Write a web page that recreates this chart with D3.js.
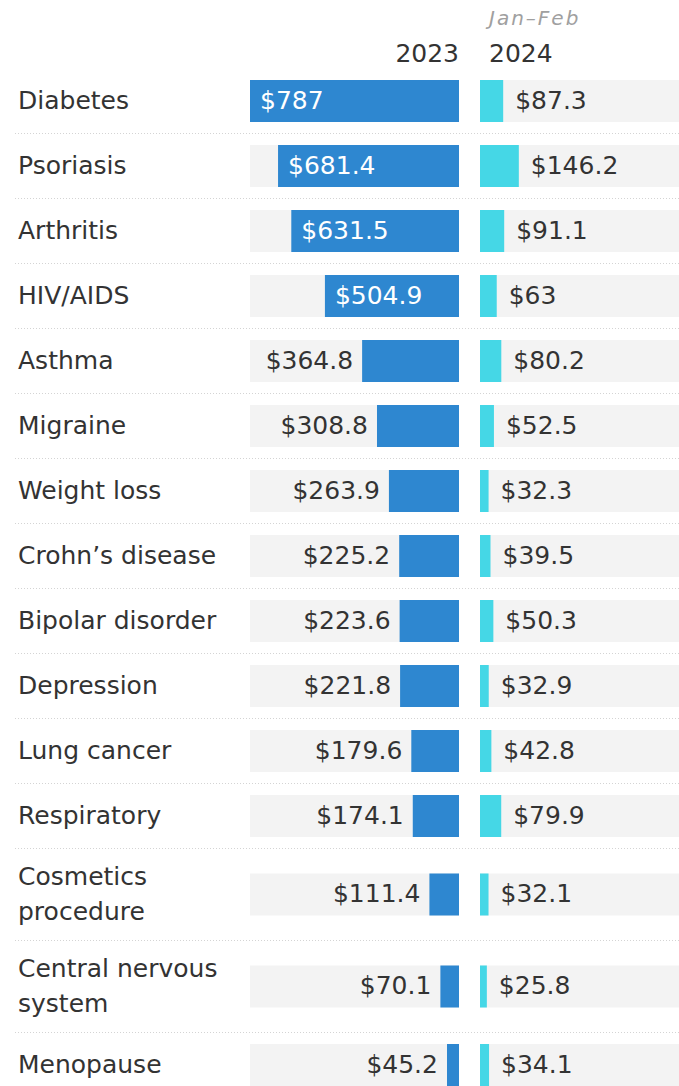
<!DOCTYPE html>
<html>
<head>
<meta charset="utf-8">
<script src="https://cdn.jsdelivr.net/npm/d3@7"></script>
<style>
  html, body { margin: 0; padding: 0; background: #fff; }
  svg { display: block; }
  text { font-family: "DejaVu Sans", sans-serif; }
</style>
</head>
<body>
<svg id="chart"></svg>
<script>
// data
var categories = ["Diabetes", "Psoriasis", "Arthritis", "HIV/AIDS", "Asthma", "Migraine", "Weight loss",
    "Crohn\u2019s disease", "Bipolar disorder", "Depression", "Lung cancer", "Respiratory",
    "Cosmetics\nprocedure", "Central nervous\nsystem", "Menopause"];
var values2023 = [787, 681.4, 631.5, 504.9, 364.8, 308.8, 263.9, 225.2, 223.6, 221.8, 179.6, 174.1, 111.4, 70.1, 45.2];
var values2024 = [87.3, 146.2, 91.1, 63, 80.2, 52.5, 32.3, 39.5, 50.3, 32.9, 42.8, 79.9, 32.1, 25.8, 34.1];
var seriesLabels = ["2023", "2024"];
var subLabel = "Jan\u2013Feb";

var width = 679, height = 1086;
var svg = d3.select("#chart").attr("width", width).attr("height", height);

var fontSize = 25;
var rowH1 = 65, rowH2 = 92;   // single / two-line row heights
var barH = 42;
var top0 = 68.5;
var mid = 459;                // 2023 bars end here
var gap = 21;                 // 2024 bars start at mid + gap
var x = d3.scaleLinear().domain([0, d3.max(values2023)]).range([0, 209]);

var fmt = function (v) { return "$" + v; };

// rows layout
var rows = [];
var yy = top0;
categories.forEach(function (c, i) {
    var lines = c.split("\n");
    var h = lines.length > 1 ? rowH2 : rowH1;
    rows.push({ name: c, lines: lines, v23: values2023[i], v24: values2024[i], y: yy, h: h });
    yy += h;
});

// header
svg.append("text")
    .attr("x", mid).attr("y", 62)
    .attr("text-anchor", "end")
    .style("font-size", fontSize + "px")
    .style("fill", "#333")
    .text(seriesLabels[0]);
svg.append("text")
    .attr("x", mid + gap + 9).attr("y", 62)
    .style("font-size", fontSize + "px")
    .style("fill", "#333")
    .text(seriesLabels[1]);
svg.append("text")
    .attr("x", mid + gap + 9).attr("y", 25)
    .style("font-size", "20px")
    .style("font-style", "italic")
    .style("letter-spacing", "2px")
    .style("fill", "#a0a0a0")
    .text(subLabel);

var g = svg.selectAll(".row").data(rows).enter()
    .append("g")
    .attr("class", "row")
    .attr("transform", function (d) { return "translate(0," + d.y + ")"; });

// separators
g.filter(function (d, i) { return i > 0; })
    .append("line")
    .attr("x1", 15).attr("x2", width)
    .attr("y1", 0).attr("y2", 0)
    .style("stroke", "#d4d4d4")
    .style("stroke-width", 1)
    .style("stroke-dasharray", "1,2");

// gray tracks
g.append("rect")
    .attr("x", mid - x(d3.max(values2023)))
    .attr("y", function (d) { return (d.h - barH) / 2; })
    .attr("width", x(d3.max(values2023)))
    .attr("height", barH)
    .attr("fill", "#f3f3f3");
g.append("rect")
    .attr("x", mid + gap)
    .attr("y", function (d) { return (d.h - barH) / 2; })
    .attr("width", width - mid - gap)
    .attr("height", barH)
    .attr("fill", "#f3f3f3");

// 2023 bars
g.append("rect")
    .attr("x", function (d) { return mid - x(d.v23); })
    .attr("y", function (d) { return (d.h - barH) / 2; })
    .attr("width", function (d) { return x(d.v23); })
    .attr("height", barH)
    .attr("fill", "#2e87d0");

// 2024 bars
g.append("rect")
    .attr("x", mid + gap)
    .attr("y", function (d) { return (d.h - barH) / 2; })
    .attr("width", function (d) { return x(d.v24); })
    .attr("height", barH)
    .attr("fill", "#45d7e6");

// category labels
var lab = g.append("text")
    .attr("y", function (d) { return d.h / 2 - (d.lines.length - 1) * 17.5; })
    .style("font-size", fontSize + "px")
    .style("fill", "#333");
lab.selectAll("tspan").data(function (d) { return d.lines; }).enter()
    .append("tspan")
    .attr("x", 18)
    .attr("dy", function (d, i) { return i === 0 ? "0.3em" : "35px"; })
    .text(function (d) { return d; });

// 2023 value labels
g.append("text")
    .attr("x", function (d) {
        var inside = x(d.v23) > 120;
        return inside ? mid - x(d.v23) + 10 : mid - x(d.v23) - 9;
    })
    .attr("y", function (d) { return d.h / 2; })
    .attr("dy", "0.3em")
    .attr("text-anchor", function (d) { return x(d.v23) > 120 ? "start" : "end"; })
    .style("font-size", fontSize + "px")
    .style("fill", function (d) { return x(d.v23) > 120 ? "#fff" : "#333"; })
    .text(function (d) { return fmt(d.v23); });

// 2024 value labels
g.append("text")
    .attr("x", function (d) { return mid + gap + x(d.v24) + 12; })
    .attr("y", function (d) { return d.h / 2; })
    .attr("dy", "0.3em")
    .style("font-size", fontSize + "px")
    .style("fill", "#333")
    .text(function (d) { return fmt(d.v24); });
</script>
</body>
</html>
